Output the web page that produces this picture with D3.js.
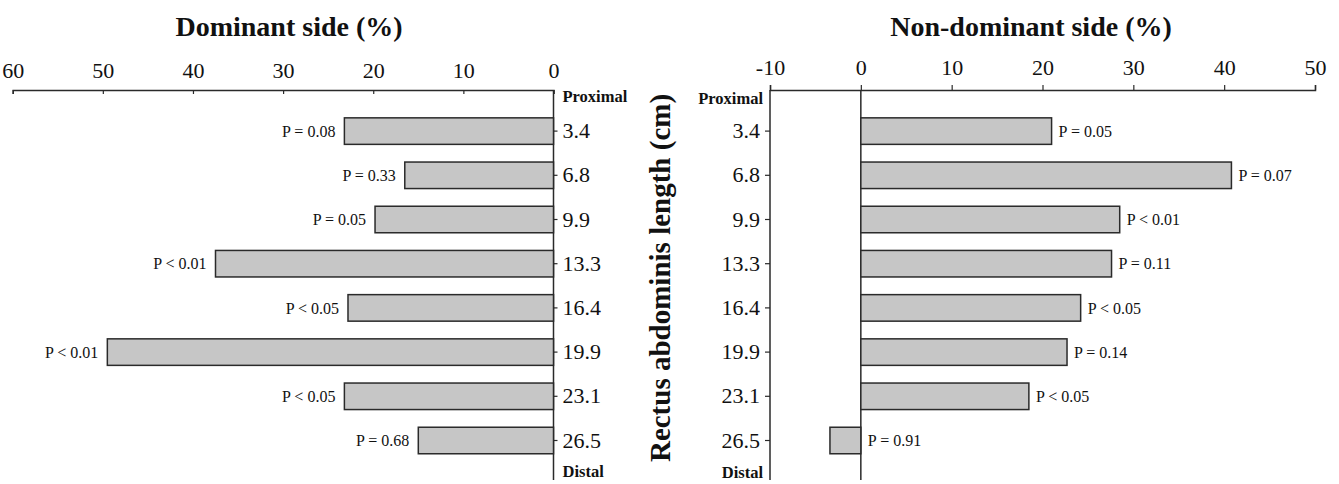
<!DOCTYPE html>
<html lang="en">
<head>
<meta charset="UTF-8">
<title>Rectus abdominis</title>
<script src="https://d3js.org/d3.v7.min.js"></script>
<style>
    body { margin: 0; background: #fff; }
    svg { display: block; font-family: "Liberation Serif", "Times New Roman", serif; }
</style>
</head>
<body>
<div id="chart"></div>
<script>
    // data
    var lengths = ["3.4", "6.8", "9.9", "13.3", "16.4", "19.9", "23.1", "26.5"];
    var dominant = [23.2, 16.5, 19.8, 37.5, 22.8, 49.5, 23.2, 15.0];
    var dominantP = ["P = 0.08", "P = 0.33", "P = 0.05", "P < 0.01", "P < 0.05", "P < 0.01", "P < 0.05", "P = 0.68"];
    var nonDominant = [21.0, 40.8, 28.5, 27.6, 24.2, 22.7, 18.5, -3.4];
    var nonDominantP = ["P = 0.05", "P = 0.07", "P < 0.01", "P = 0.11", "P < 0.05", "P = 0.14", "P < 0.05", "P = 0.91"];
    var domTicks = [60, 50, 40, 30, 20, 10, 0];
    var nonDomTicks = [-10, 0, 10, 20, 30, 40, 50];

    var W = 1339, H = 484;
    var axisY = 90, bottomY = 480;
    var ink = "#2a2a2a";

    var svg = d3.select("#chart").append("svg")
        .attr("width", W)
        .attr("height", H);

    var y = d3.scaleBand()
        .domain(lengths)
        .range([109, 462.6])
        .paddingInner(0.4)
        .paddingOuter(0.2);

    // left: dominant side, reversed x
    var xL = d3.scaleLinear().domain([60, 0]).range([12.7, 553.5]);
    // right: non-dominant side
    var xR = d3.scaleLinear().domain([-10, 50]).range([770, 1315]);

    function styleAxis(g) {
        g.select(".domain").attr("stroke", ink).attr("stroke-width", 1.5);
        g.selectAll(".tick line").attr("stroke", ink).attr("stroke-width", 1.2);
        g.selectAll(".tick text")
            .attr("fill", "#111")
            .style("font-family", "Liberation Serif")
            .style("font-size", "22px");
    }

    // plain hyphen for negatives, like the original
    var plain = d => String(d);

    // top value axes
    svg.append("g")
        .attr("transform", "translate(0," + axisY + ")")
        .call(d3.axisTop(xL).tickValues(domTicks).tickFormat(plain).tickSizeInner(-4).tickSizeOuter(-4).tickPadding(12))
        .call(styleAxis);

    svg.append("g")
        .attr("transform", "translate(0," + axisY + ")")
        .call(d3.axisTop(xR).tickValues(nonDomTicks).tickFormat(plain).tickSizeInner(5).tickSizeOuter(5).tickPadding(10))
        .call(styleAxis);

    // category axes
    var catL = svg.append("g")
        .attr("transform", "translate(" + xL(0) + ",0)")
        .call(d3.axisRight(y).tickSizeInner(4).tickSizeOuter(0).tickPadding(5))
        .call(styleAxis);
    catL.select(".domain").remove();

    var catR = svg.append("g")
        .attr("transform", "translate(" + xR(-10) + ",0)")
        .call(d3.axisLeft(y).tickSizeInner(5).tickSizeOuter(0).tickPadding(5))
        .call(styleAxis);
    catR.select(".domain").remove();

    // vertical lines
    [xL(0), xR(-10), xR(0)].forEach(function(x) {
        svg.append("line")
            .attr("x1", x).attr("x2", x)
            .attr("y1", axisY).attr("y2", bottomY)
            .attr("stroke", ink).attr("stroke-width", 1.5);
    });

    // bars
    var left = lengths.map(function(d, i) { return {len: d, v: dominant[i], p: dominantP[i]}; });
    var right = lengths.map(function(d, i) { return {len: d, v: nonDominant[i], p: nonDominantP[i]}; });

    svg.append("g").selectAll("rect")
        .data(left)
        .join("rect")
        .attr("x", d => xL(d.v))
        .attr("y", d => y(d.len))
        .attr("width", d => xL(0) - xL(d.v))
        .attr("height", y.bandwidth())
        .attr("fill", "#c6c6c6")
        .attr("stroke", ink)
        .attr("stroke-width", 1.5);

    svg.append("g").selectAll("text")
        .data(left)
        .join("text")
        .attr("x", d => xL(d.v) - 9)
        .attr("y", d => y(d.len) + y.bandwidth() / 2)
        .attr("dy", "0.35em")
        .attr("text-anchor", "end")
        .style("font-size", "16px")
        .attr("fill", "#111")
        .text(d => d.p);

    svg.append("g").selectAll("rect")
        .data(right)
        .join("rect")
        .attr("x", d => xR(Math.min(0, d.v)))
        .attr("y", d => y(d.len))
        .attr("width", d => Math.abs(xR(d.v) - xR(0)))
        .attr("height", y.bandwidth())
        .attr("fill", "#c6c6c6")
        .attr("stroke", ink)
        .attr("stroke-width", 1.5);

    svg.append("g").selectAll("text")
        .data(right)
        .join("text")
        .attr("x", d => xR(Math.max(0, d.v)) + 7)
        .attr("y", d => y(d.len) + y.bandwidth() / 2)
        .attr("dy", "0.35em")
        .style("font-size", "16px")
        .attr("fill", "#111")
        .text(d => d.p);

    // Proximal / Distal
    function endLabel(x, yy, anchor, txt) {
        svg.append("text")
            .attr("x", x).attr("y", yy)
            .attr("text-anchor", anchor)
            .style("font-size", "16.5px")
            .style("font-weight", "bold")
            .attr("fill", "#111")
            .text(txt);
    }
    endLabel(xL(0) + 9, 102, "start", "Proximal");
    endLabel(xL(0) + 9, 477, "start", "Distal");
    endLabel(xR(-10) - 7, 104, "end", "Proximal");
    endLabel(xR(-10) - 7, 478, "end", "Distal");

    // titles
    svg.append("text")
        .attr("x", 289).attr("y", 36)
        .attr("text-anchor", "middle")
        .style("font-size", "28px")
        .style("font-weight", "bold")
        .attr("fill", "#111")
        .text("Dominant side (%)");

    svg.append("text")
        .attr("x", 1031).attr("y", 36)
        .attr("text-anchor", "middle")
        .style("font-size", "28px")
        .style("font-weight", "bold")
        .attr("fill", "#111")
        .text("Non-dominant side (%)");

    // shared y label
    svg.append("text")
        .attr("transform", "translate(670,278) rotate(-90)")
        .attr("text-anchor", "middle")
        .style("font-size", "29px")
        .style("font-weight", "bold")
        .attr("fill", "#111")
        .text("Rectus abdominis length (cm)");
</script>
</body>
</html>
